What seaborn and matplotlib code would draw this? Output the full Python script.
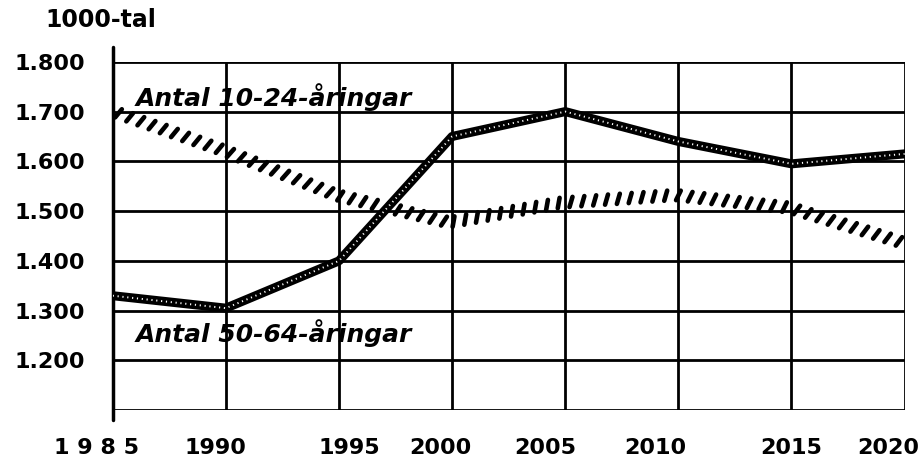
import pandas as pd
import matplotlib.pyplot as plt
import matplotlib.patheffects as pe
import matplotlib.transforms as mtransforms
import seaborn as sns

# Data (1000-tal)
years = [1985, 1990, 1995, 2000, 2005, 2010, 2015, 2020]
antal_10_24 = [1.700, 1.620, 1.530, 1.475, 1.515, 1.530, 1.505, 1.435]
antal_50_64 = [1.330, 1.305, 1.400, 1.650, 1.700, 1.640, 1.595, 1.615]
y_ticks = [1.2, 1.3, 1.4, 1.5, 1.6, 1.7, 1.8]
y_labels = ['1.200', '1.300', '1.400', '1.500', '1.600', '1.700', '1.800']
x_labels = ['1 9 8 5', '1990', '1995', '2000', '2005', '2010', '2015', '2020']

df = pd.DataFrame({'year': years, 'a10_24': antal_10_24, 'a50_64': antal_50_64})

sns.set_style('white')
plt.rcParams['font.family'] = ['DejaVu Sans']
plt.rcParams['text.color'] = 'black'
plt.rcParams['xtick.color'] = 'black'
plt.rcParams['ytick.color'] = 'black'

fig = plt.figure(figsize=(9.24, 4.72), dpi=100)
ax = fig.add_axes([0.122, 0.131, 0.857, 0.738])

# grid
for y in y_ticks + [1.1]:
    ax.axhline(y, color='black', lw=2, zorder=1)
for x in years:
    ax.axvline(x, color='black', lw=2, zorder=1)

# hatched line for 10-24 (only the slanted ticks are drawn, centred on the line)
sns.lineplot(data=df, x='year', y='a10_24', ax=ax, color='black', lw=3.2, zorder=3)
hatch_line = ax.lines[-1]
hatch_line.set_path_effects([pe.TickedStroke(offset=(-2.3, -2.8), angle=70, spacing=8.5,
                                             length=0.9, linewidth=3.3)])

# chain-like line for 50-64
sns.lineplot(data=df, x='year', y='a50_64', ax=ax, color='black', lw=6.5, zorder=4)
sns.lineplot(data=df, x='year', y='a50_64', ax=ax, color='white', lw=1.4,
             linestyle=(0, (0.6, 1.9)), zorder=5)

ax.set_xlim(1985, 2020)
ax.set_ylim(1.1, 1.8)
ax.set_xticks(years)
ax.set_xticklabels(x_labels)
ax.set_yticks(y_ticks)
ax.set_yticklabels(y_labels)
ax.tick_params(axis='y', length=0, labelsize=16, pad=20, labelcolor='black')
ax.tick_params(axis='x', length=0, labelsize=16, pad=20, labelcolor='black')
for lab in ax.get_xticklabels() + ax.get_yticklabels():
    lab.set_fontweight('bold')

# the hand-placed year labels sit a little off their grid lines
x_shift_px = [-16, -10, 10, -12, -20, -23, 0, -16]
for lab, dx in zip(ax.get_xticklabels(), x_shift_px):
    lab.set_transform(lab.get_transform() + mtransforms.ScaledTranslation(dx / 100, 0, fig.dpi_scale_trans))

ax.set_xlabel('')
ax.set_ylabel('')
for s in ax.spines.values():
    s.set_visible(False)
ax.plot([1985, 1985], [1.08, 1.83], color='black', lw=2.5, clip_on=False, zorder=2)

fig.text(0.049, 0.958, '1000-tal', fontsize=17, fontweight='bold', va='center', color='black')
ax.text(1986.0, 1.730, 'Antal 10-24-åringar', fontsize=18, fontweight='bold',
        fontstyle='italic', va='center', color='black', zorder=6)
ax.text(1986.0, 1.255, 'Antal 50-64-åringar', fontsize=18, fontweight='bold',
        fontstyle='italic', va='center', color='black', zorder=6)

fig.savefig('out.png', dpi=100)
